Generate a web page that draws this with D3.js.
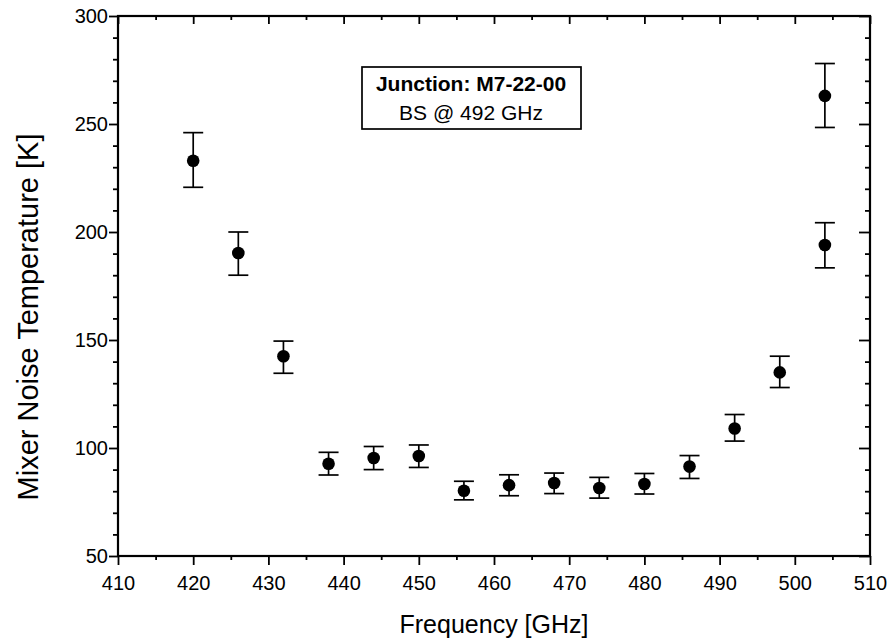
<!DOCTYPE html>
<html>
<head>
<meta charset="utf-8">
<script src="https://cdn.jsdelivr.net/npm/d3@7"></script>
<style>
  body { margin: 0; background: #fff; }
  text { font-family: "Liberation Sans", Arial, sans-serif; fill: #000; }
</style>
</head>
<body>
<svg id="chart" width="893" height="639"></svg>
<script>
// values
const freqs = [420, 426, 432, 438, 444, 450, 456, 462, 468, 474, 480, 486, 492, 498, 504, 504];
const temps = [233, 190.3, 142.5, 92.7, 95.4, 96.3, 80.2, 82.8, 83.8, 81.5, 83.3, 91.4, 109, 135, 194, 263];
const upper = [246, 200, 149.5, 98, 100.7, 101.4, 84.6, 87.6, 88.4, 86.4, 88.2, 96.5, 115.5, 142.5, 204.3, 278];
const lower = [220.7, 180, 134.6, 87.5, 90, 91, 76, 77.9, 78.9, 76.8, 78.7, 85.9, 103.2, 128, 183.4, 248.4];

const xTicks = [410, 420, 430, 440, 450, 460, 470, 480, 490, 500, 510];
const yTicks = [50, 100, 150, 200, 250, 300];
const legendLines = ["Junction: M7-22-00", "BS @ 492 GHz"];

const svg = d3.select('#chart');

const x = d3.scaleLinear().domain([410, 510]).range([118, 870]);
const y = d3.scaleLinear().domain([50, 300]).range([556, 16]);

const xMinor = d3.range(415, 510, 10);
const yMinor = d3.range(60, 300, 10).filter(v => v % 50 !== 0);

// bottom
svg.append('g').attr('transform', 'translate(0,556)')
    .call(d3.axisBottom(x).tickValues(xTicks).tickFormat(d3.format('d')).tickSize(9).tickPadding(11))
    .call(g => g.select('.domain').remove())
    .call(g => g.selectAll('text').style('font-size', '20px'));
svg.append('g').attr('transform', 'translate(0,556)')
    .call(d3.axisBottom(x).tickValues(xMinor).tickFormat('').tickSize(4))
    .call(g => g.select('.domain').remove());

// top, ticks pointing inward
svg.append('g').attr('transform', 'translate(0,16)')
    .call(d3.axisTop(x).tickValues(xTicks).tickFormat('').tickSize(-8))
    .call(g => g.select('.domain').remove());
svg.append('g').attr('transform', 'translate(0,16)')
    .call(d3.axisTop(x).tickValues(xMinor).tickFormat('').tickSize(-4))
    .call(g => g.select('.domain').remove());

// left
svg.append('g').attr('transform', 'translate(118,0)')
    .call(d3.axisLeft(y).tickValues(yTicks).tickSize(9).tickPadding(1))
    .call(g => g.select('.domain').remove())
    .call(g => g.selectAll('text').style('font-size', '20px'));
svg.append('g').attr('transform', 'translate(118,0)')
    .call(d3.axisLeft(y).tickValues(yMinor).tickFormat('').tickSize(5))
    .call(g => g.select('.domain').remove());

// right, inward
svg.append('g').attr('transform', 'translate(870,0)')
    .call(d3.axisRight(y).tickValues(yTicks).tickFormat('').tickSize(-11))
    .call(g => g.select('.domain').remove());
svg.append('g').attr('transform', 'translate(870,0)')
    .call(d3.axisRight(y).tickValues(yMinor).tickFormat('').tickSize(-5))
    .call(g => g.select('.domain').remove());

svg.selectAll('.tick line').attr('stroke', '#000').attr('stroke-width', 1.8);

// frame
svg.append('rect')
    .attr('x', x(410)).attr('y', y(300))
    .attr('width', x(510) - x(410)).attr('height', y(50) - y(300))
    .attr('fill', 'none').attr('stroke', '#000').attr('stroke-width', 2.2);

// error bars
const pts = freqs.map((f, i) => ({f: f, t: temps[i], hi: upper[i], lo: lower[i]}));
const bars = svg.append('g').attr('stroke', '#000').attr('stroke-width', 1.7);
bars.selectAll('line.v').data(pts).enter().append('line')
    .attr('x1', d => x(d.f)).attr('x2', d => x(d.f))
    .attr('y1', d => y(d.hi)).attr('y2', d => y(d.lo));
bars.selectAll('line.hi').data(pts).enter().append('line')
    .attr('x1', d => x(d.f) - 10).attr('x2', d => x(d.f) + 10)
    .attr('y1', d => y(d.hi)).attr('y2', d => y(d.hi));
bars.selectAll('line.lo').data(pts).enter().append('line')
    .attr('x1', d => x(d.f) - 10).attr('x2', d => x(d.f) + 10)
    .attr('y1', d => y(d.lo)).attr('y2', d => y(d.lo));

svg.append('g').selectAll('circle').data(pts).enter().append('circle')
    .attr('cx', d => x(d.f)).attr('cy', d => y(d.t)).attr('r', 6.3)
    .attr('fill', '#000');

// legend box
svg.append('rect').attr('x', 362).attr('y', 67).attr('width', 219).attr('height', 62)
    .attr('fill', '#fff').attr('stroke', '#000').attr('stroke-width', 1.7);
svg.append('text').attr('x', 471).attr('y', 91).attr('text-anchor', 'middle')
    .style('font-size', '21px').style('font-weight', 'bold').text(legendLines[0]);
svg.append('text').attr('x', 471).attr('y', 120).attr('text-anchor', 'middle')
    .style('font-size', '21px').text(legendLines[1]);

// axis titles
svg.append('text').attr('x', 494).attr('y', 633).attr('text-anchor', 'middle')
    .style('font-size', '25px').text('Frequency [GHz]');
svg.append('text').attr('transform', 'translate(38,317) rotate(-90)').attr('text-anchor', 'middle')
    .style('font-size', '29px').text('Mixer Noise Temperature [K]');
</script>
</body>
</html>
